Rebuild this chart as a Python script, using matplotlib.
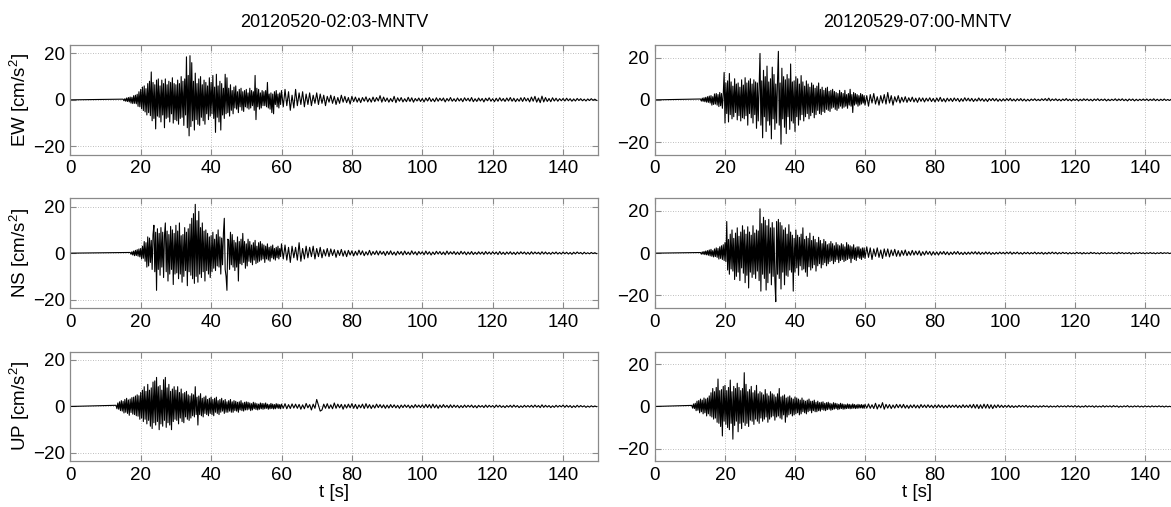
import numpy as np
import matplotlib
matplotlib.use("Agg")
import matplotlib.pyplot as plt

plt.rcParams['font.family'] = ['Liberation Sans', 'DejaVu Sans']
plt.rcParams['mathtext.fontset'] = 'custom'
plt.rcParams['mathtext.rm'] = 'Liberation Sans'
plt.rcParams['mathtext.it'] = 'Liberation Sans'

# ---------------- data ----------------
titles = ["20120520-02:03-MNTV", "20120529-07:00-MNTV"]
components = ["EW", "NS", "UP"]
xticks = [0, 20, 40, 60, 80, 100, 120, 140]
yticks = [-20, 0, 20]
ylims = [23.6, 26.0]          # symmetric y-range of left / right column
dt_active = 0.25               # s, sampling of strong-motion part (onset -> 60 s)
dt_coda = 0.5                  # s, sampling of coda (60 s -> 150 s)
coda_start = 60.0

# ---- 20120520 EW ----
onset_l_ew = 15.0
act_l_ew = [
    0.3,-0.4,0.5,-0.6, 0.8,-0.7,1.0,-0.9, 1.2,-1.4,1.1,-1.6, 1.8,-1.5,2.0,-1.7, 2.4,-2.8,3.5,-3.0,
    4.5,-3.8,5.5,-4.6, 6.0,-5.2,4.8,-6.5, 7.0,-5.5,8.0,-6.8, 12.0,-9.0,7.5,-8.0, 6.5,-12.5,8.5,-7.0,
    9.0,-7.5,6.0,-9.5, 8.5,-6.5,7.0,-12.0, 9.0,-8.0,6.5,-7.5, 8.0,-9.5,7.5,-6.0, 9.5,-10.0,7.0,-8.5,
    6.5,-9.0,8.5,-10.5, 7.0,-8.0,10.0,-7.5, 8.0,-11.0,9.0,-6.5, 18.5,-12.0,10.5,-15.5, 19.0,-11.5,16.0,-9.0,
    8.0,-13.0,11.5,-8.5, 7.0,-10.5,9.0,-11.0, 10.0,-7.5,6.5,-9.0, 8.5,-10.5,7.5,-6.0, 6.0,-8.5,9.5,-7.0,
    7.5,-6.0,10.5,-8.0, 5.5,-14.0,11.0,-7.5, 6.0,-9.5,8.0,-13.0, 7.0,-6.5,5.0,-8.0, 11.0,-6.0,9.5,-5.5,
    5.0,-7.0,6.5,-4.5, 4.0,-6.0,5.5,-3.5, 6.0,-4.0,3.5,-5.5, 4.5,-3.0,5.0,-4.5, 3.5,-5.0,4.0,-3.0,
    4.5,-3.5,3.0,-4.0, 5.0,-3.5,4.0,-2.5, 3.5,-4.5,10.5,-8.5, 5.0,-3.0,4.5,-4.0, 3.0,-3.5,4.0,-2.5,
    3.5,-2.5,4.0,-3.0, 7.5,-3.5,2.5,-4.0, 3.0,-5.5,2.5,-6.0, 3.5,-2.0,4.0,-3.0, 2.5,-3.5,3.0,-2.0,
]
coda_l_ew = [
    4.0,-3.0,4.5,-2.5,3.5,-4.5,2.0,-3.5,4.5,-2.5, 3.0,-2.0,3.5,-3.0,2.5,-2.0,3.0,-2.5,2.0,-1.5,
    3.0,-2.0,2.5,-1.5,2.0,-2.5,1.5,-1.0,2.0,-1.5, 1.5,-2.0,1.0,-1.5,2.0,-1.0,1.5,-1.2,1.0,-1.8,
    1.5,-0.8,1.2,-1.0,0.8,-1.2,1.0,-0.6,1.3,-0.9, 0.7,-1.0,1.2,-0.8,1.0,-0.5,1.8,-1.0,1.2,-0.7,
    0.8,-1.0,0.6,-0.8,1.5,-1.2,0.9,-0.6,1.0,-0.9, 0.5,-0.8,1.1,-0.7,0.9,-1.0,0.6,-0.5,0.8,-0.7,
    0.6,-0.9,0.8,-0.5,1.0,-0.7,0.5,-0.8,0.9,-0.6, 0.7,-0.4,0.8,-0.9,0.6,-0.5,1.0,-0.6,0.5,-0.7,
    0.8,-0.5,0.6,-0.8,0.9,-0.4,0.7,-0.6,1.0,-0.8, 0.5,-0.7,0.8,-0.5,0.6,-0.9,0.7,-0.4,0.9,-0.6,
    0.5,-0.8,0.7,-0.6,0.9,-0.5,0.6,-0.7,0.8,-0.5, 1.0,-0.6,0.7,-0.8,0.5,-0.6,0.9,-0.7,1.0,-0.5,
    0.7,-0.9,1.2,-0.6,1.5,-1.0,0.8,-1.2,1.6,-0.9, 1.0,-0.7,0.6,-0.8,0.9,-0.5,0.7,-0.6,0.5,-0.4,
    0.6,-0.5,0.7,-0.4,0.5,-0.6,0.4,-0.5,0.6,-0.3, 0.5,-0.4,0.3,-0.5,0.4,-0.3,0.5,-0.2,0.3,-0.2,
]

# ---- 20120520 NS ----
onset_l_ns = 17.0
act_l_ns = [
    0.3,-0.5,0.6,-0.8, 0.9,-1.1,1.2,-1.0, 1.5,-1.3,1.8,-1.6,
    2.0,-2.5,3.0,-2.2, 5.0,-3.5,4.5,-6.0, 7.0,-5.5,6.5,-4.0, 5.5,-7.0,8.0,12.0, -8.0,9.0,-16.0,10.5,
    -7.0,8.5,-9.5,11.0, -6.0,9.0,-10.5,7.5, 13.0,-8.0,9.5,-12.0, 8.0,-9.0,11.5,-7.0, 10.0,-13.5,8.5,-9.0,
    12.0,-8.5,9.5,-11.0, 13.0,-9.0,7.5,-12.5, 8.0,-10.0,11.0,-7.5, 9.0,-14.0,10.5,-8.0, 12.5,-9.5,15.0,-11.0,
    17.0,-13.0,21.0,-10.0, 14.0,-12.5,18.0,-9.0, 11.0,-10.5,13.0,-8.0, 9.5,-12.0,10.0,-7.5, 8.5,-9.0,7.0,-10.5,
    7.5,-8.0,9.0,-6.5, 6.0,-7.5,8.0,-5.5, 10.0,-6.0,7.0,-9.0, 6.5,-5.0,8.5,15.0, -7.0,-10.0,-16.0,6.0,
    5.5,-7.0,9.0,-5.0, 8.0,-6.0,5.5,-7.5, 4.5,-6.0,7.0,-12.0, 5.0,-4.5,6.0,-5.0, 8.5,-4.0,5.0,-6.5,
    4.0,-5.5,6.0,-3.5, 5.0,-4.0,3.5,-5.0, 4.5,-3.0,5.5,-4.5, 3.0,-4.0,4.5,-3.5, 5.0,-3.0,4.0,-2.5,
    3.5,-4.0,3.0,-2.5, 4.0,-3.0,2.5,-3.5, 3.0,-2.0,3.5,-2.5, 2.0,-3.0,2.5,-2.0, 3.0,-2.5,2.0,-1.5,
]
coda_l_ns = [
    4.0,-2.5,3.5,-3.0,2.5,-4.0,3.0,-2.0,2.5,-3.0, 4.5,-3.5,2.0,-2.5,3.0,-2.0,2.5,-1.5,3.0,-2.5,
    2.0,-1.5,2.5,-2.0,1.5,-1.2,2.0,-1.5,1.8,-1.0, 1.5,-1.8,1.2,-1.0,1.6,-1.3,1.0,-1.5,1.2,-0.8,
    1.0,-1.2,0.8,-0.9,1.3,-0.7,1.0,-1.1,0.6,-0.8, 1.2,-0.9,0.7,-0.6,1.0,-0.8,0.9,-0.5,0.7,-1.0,
    0.8,-0.6,1.0,-0.7,0.5,-0.9,0.8,-0.5,0.7,-0.8, 0.9,-0.6,0.5,-0.7,1.0,-0.5,0.6,-0.8,0.7,-0.4,
    0.6,-0.7,0.9,-0.5,0.6,-0.8,0.5,-0.6,0.8,-0.4, 0.7,-0.6,0.5,-0.7,0.9,-0.5,0.6,-0.4,0.7,-0.6,
    0.5,-0.6,0.8,-0.4,0.6,-0.7,0.5,-0.5,0.7,-0.6, 0.4,-0.5,0.6,-0.4,0.5,-0.6,0.7,-0.4,0.5,-0.5,
    0.6,-0.4,0.5,-0.6,0.7,-0.5,0.4,-0.6,0.5,-0.4, 0.6,-0.5,0.4,-0.6,0.5,-0.4,0.6,-0.3,0.5,-0.5,
    0.4,-0.5,0.6,-0.4,0.5,-0.3,0.4,-0.5,0.6,-0.4, 0.5,-0.4,0.3,-0.5,0.4,-0.3,0.5,-0.4,0.3,-0.4,
    0.5,-0.3,0.4,-0.4,0.3,-0.5,0.4,-0.3,0.5,-0.2, 0.3,-0.4,0.4,-0.3,0.2,-0.3,0.3,-0.2,0.2,-0.2,
]

# ---- 20120520 UP ----
onset_l_up = 13.0
act_l_up = [
    0.5,-1.0,1.5,-1.2, 2.0,-1.8,2.5,-2.0,
    2.2,-2.8,3.0,-2.5, 3.5,-3.0,2.8,-3.8, 3.2,-2.6,3.8,-3.3, 4.0,-3.5,4.5,-4.0, 5.0,-4.2,4.6,-5.5,
    6.0,-5.0,7.0,-6.5, 8.5,-5.5,6.5,-7.5, 9.5,-6.0,7.0,-8.5, 8.0,-9.5,10.5,-7.0, 11.0,-8.0,12.5,-6.5,
    8.5,-10.0,9.0,-7.5, 7.0,-8.5,11.5,-6.0, 12.5,-9.0,8.0,-7.0, 9.5,-8.0,6.5,-10.0, 7.5,-6.5,8.5,-5.5,
    7.0,-6.0,8.5,-7.5, 6.0,-5.0,7.5,-6.5, 5.5,-7.0,6.0,-4.5, 6.5,-5.5,5.0,-6.0, 4.5,-5.0,5.5,-4.0,
    5.0,-4.5,8.5,-3.5, 4.0,-8.0,4.5,-3.5, 5.5,-4.0,3.5,-4.5, 4.0,-3.0,4.5,-3.5, 3.0,-4.0,3.5,-3.0,
    4.0,-3.5,3.0,-4.0, 3.5,-2.5,4.0,-3.0, 2.5,-3.5,3.0,-2.5, 3.5,-2.0,2.5,-3.0, 3.0,-2.5,2.0,-2.5,
    2.5,-2.0,3.0,-2.5, 2.0,-2.5,2.5,-1.8, 2.2,-2.0,1.8,-2.5, 2.0,-1.5,2.5,-1.8, 1.5,-2.0,1.8,-1.5,
    2.0,-1.5,1.8,-1.2, 1.5,-1.8,1.2,-1.5, 1.8,-1.0,1.5,-1.3, 1.2,-1.5,1.0,-1.2, 1.5,-1.0,1.3,-1.2,
    1.2,-1.0,1.5,-0.8, 1.0,-1.2,0.8,-1.0, 1.3,-0.9,1.0,-1.1, 0.8,-1.0,1.2,-0.7, 1.0,-0.9,0.8,-1.0,
]
coda_l_up = [
    1.0,-0.8,1.2,-1.0,0.8,-0.9,1.1,-0.7,1.0,-0.8, 0.9,-1.2,0.7,-1.0,1.3,-0.6,0.8,-1.5,1.0,-0.8,
    3.0,0.5,-2.0,-1.5,1.0,-0.8,1.2,-0.9,0.7,-1.0, 1.5,-0.8,1.0,-0.6,0.9,-1.2,0.8,-0.7,1.0,-0.6,
    1.2,-0.8,0.9,-1.0,0.7,-0.6,1.0,-0.9,1.2,-0.7, 0.8,-0.9,0.6,-0.7,1.0,-0.5,0.8,-0.6,0.7,-0.8,
    0.6,-0.7,0.8,-0.5,0.7,-0.6,0.5,-0.8,0.6,-0.5, 0.7,-0.4,0.6,-0.7,0.5,-0.6,0.8,-0.4,0.6,-0.5,
    0.7,-0.6,0.9,-0.5,0.8,-0.7,1.0,-0.6,0.7,-0.8, 0.6,-0.5,0.8,-0.4,0.5,-0.6,0.7,-0.5,0.6,-0.4,
    0.5,-0.6,0.4,-0.5,0.6,-0.4,0.5,-0.3,0.6,-0.5, 0.4,-0.6,0.5,-0.3,0.4,-0.5,0.6,-0.4,0.5,-0.3,
    0.4,-0.5,0.6,-0.3,0.5,-0.4,0.3,-0.5,0.4,-0.3, 0.5,-0.4,0.6,-0.3,0.4,-0.5,0.3,-0.4,0.5,-0.3,
    0.4,-0.3,0.5,-0.4,0.6,-0.3,0.4,-0.5,0.7,-0.4, 0.5,-0.3,0.4,-0.5,0.3,-0.4,0.5,-0.3,0.4,-0.2,
    0.6,-0.4,0.5,-0.3,0.4,-0.5,0.3,-0.4,0.5,-0.3, 0.4,-0.2,0.3,-0.4,0.2,-0.3,0.3,-0.2,0.2,-0.1,
]

# ---- 20120529 EW ----
onset_r_ew = 13.0
act_r_ew = [
    0.4,-0.6,0.8,-0.7, 1.0,-0.9,1.2,-1.1,
    1.5,-1.2,1.8,-1.5, 2.0,-2.5,1.5,-2.2, 2.8,-2.0,3.0,-2.5, 2.5,-3.2,3.5,-2.8, 3.0,-4.0,2.5,13.0,
    -11.0,8.0,-6.5,9.0, -10.5,12.5,-7.0,8.5, -9.0,6.5,-8.0,10.0, -6.0,7.5,-9.5,8.0, -7.5,6.0,-10.0,9.5,
    -8.5,7.0,-9.0,10.5, -7.5,8.0,-12.0,9.0, -6.5,10.0,-8.5,7.5, -11.0,9.5,-7.0,8.5, -13.5,8.0,-10.0,7.0,
    22.0,-12.0,9.0,-18.0, 14.0,-8.0,11.0,-15.0, 16.0,-10.0,8.5,-12.0, 10.0,-18.5,15.5,-9.0, 12.0,-14.0,7.5,-11.0,
    9.0,23.0,-12.0,8.0, -21.0,15.0,-9.0,11.0, -13.0,9.5,-16.0,12.0, -8.0,10.0,-14.0,17.0, -10.0,8.5,-11.0,9.0,
    -15.0,11.0,-8.0,10.0, -12.0,7.5,-9.5,11.5, -7.0,8.5,-10.0,6.5, -8.0,9.0,-6.5,7.5, -9.0,6.0,-7.5,8.0,
    -6.0,7.0,-8.5,5.5, -7.0,6.5,-5.0,8.0, -6.5,5.0,-7.0,6.0, -5.5,4.5,-6.0,5.5, -4.5,6.0,-5.0,4.0,
    -5.5,4.5,-4.0,5.0, -3.5,4.0,-4.5,3.5, -5.0,3.0,-4.0,4.5, -3.0,3.5,-4.0,3.0, -3.5,4.5,-3.0,2.5,
    -4.0,3.0,-2.5,5.0, -3.0,2.5,-6.0,3.5, -2.5,3.0,-2.0,2.5, -3.0,2.0,-2.5,3.0, -2.0,2.5,-1.5,2.0,
]
coda_r_ew = [
    -2.5,2.0,-3.0,2.5,-1.5,3.0,-2.0,1.5,-2.5,2.0, -1.5,2.5,-2.0,3.5,-1.5,2.0,-2.5,1.5,-1.0,2.0,
    -1.5,1.2,-1.0,1.5,-1.2,1.0,-0.8,1.3,-1.0,0.8, -1.2,1.0,-0.7,0.9,-1.0,0.8,-0.6,1.0,-0.8,0.7,
    -1.0,0.9,-0.7,1.2,-0.8,0.6,-1.0,0.8,-0.6,0.7, -0.8,0.9,-0.5,0.7,-0.9,0.6,-0.7,1.0,-0.5,0.8,
    -0.6,0.7,-0.8,0.5,-0.6,0.9,-0.5,0.6,-0.7,0.5, -0.8,0.6,-0.4,0.7,-0.5,0.6,-0.7,0.4,-0.6,0.5,
    -0.5,0.6,-0.4,0.7,-0.5,0.4,-0.6,0.5,-0.4,0.6, -0.5,0.4,-0.6,0.3,-0.5,0.4,-0.3,0.5,-0.4,0.3,
    -0.4,0.5,-0.3,0.6,-0.4,0.8,-0.5,0.4,-0.3,0.5, -0.4,0.3,-0.5,0.4,-0.3,0.6,-0.4,0.3,-0.5,0.4,
    -0.3,0.4,-0.5,0.3,-0.4,0.5,-0.3,0.4,-0.4,0.3, -0.5,0.4,-0.3,0.5,-0.4,0.3,-0.3,0.4,-0.5,0.3,
    -0.4,0.3,-0.3,0.5,-0.4,0.4,-0.3,0.5,-0.4,0.3, -0.5,0.4,-0.3,0.4,-0.5,0.3,-0.4,0.3,-0.3,0.4,
    -0.3,0.4,-0.4,0.3,-0.3,0.5,-0.4,0.3,-0.4,0.3, -0.3,0.4,-0.3,0.2,-0.3,0.3,-0.2,0.3,-0.2,0.2,
]

# ---- 20120529 NS ----
onset_r_ns = 13.0
act_r_ns = [
    0.3,-0.5,0.6,-0.5, 0.8,-0.7,1.0,-0.8,
    1.2,-1.0,1.5,-1.3, 1.8,-1.5,1.2,-1.8, 2.0,-1.6,2.5,-2.0, 2.2,-2.8,3.0,-2.5, 3.5,-3.0,4.0,-3.5,
    5.0,-4.0,15.0,-8.0, 6.5,-10.0,9.0,-7.5, 11.0,-8.5,7.0,-12.5, 9.5,-11.0,12.0,-9.0, 8.0,-13.0,10.0,-7.0,
    13.0,-9.5,11.0,-14.0, 9.0,-10.5,12.5,-16.5, 10.0,-9.0,8.5,-11.5, 13.0,-10.0,9.5,-12.0, 11.0,-8.5,10.5,-13.0,
    21.0,-18.0,14.0,-10.0, 17.0,-12.0,15.5,-17.5, 13.0,-14.0,16.0,-9.5, 12.0,-15.0,14.5,-11.0, 12.0,-13.0,-23.0,15.0,
    -10.0,16.0,-12.0,14.5, -17.0,13.0,-9.0,11.0, -15.0,12.0,-10.5,9.0, -11.0,13.5,-8.0,10.0, -9.0,8.5,-18.0,7.0,
    -9.0,11.0,-7.0,8.5, -10.5,7.5,-6.0,9.0, -8.0,12.0,-7.5,6.5, -9.0,8.0,-11.0,7.0, -6.5,9.5,-8.0,6.0,
    -7.0,8.0,-5.5,6.5, -8.5,5.0,-6.0,7.5, -5.0,6.0,-7.0,4.5, -5.5,6.5,-4.5,5.5, -6.0,4.0,-5.0,4.5,
    -4.0,5.5,-3.5,4.5, -5.0,3.5,-4.0,5.0, -3.0,4.0,-4.5,3.5, -3.5,4.5,-3.0,4.0, -4.0,3.0,-3.5,5.0,
    -3.0,4.0,-2.5,3.5, -4.5,3.0,-2.5,4.0, -3.0,2.5,-3.5,3.0, -2.0,3.0,-2.5,2.0, -3.0,2.5,-2.0,2.5,
]
coda_r_ns = [
    -2.5,3.0,-2.0,2.5,-3.0,2.0,-1.5,2.5,-2.0,1.5, -2.5,2.0,-1.5,2.0,-1.8,1.5,-1.2,1.8,-1.5,1.2,
    -1.5,1.2,-1.0,1.5,-1.2,0.8,-1.0,1.3,-0.9,1.0, -0.8,1.1,-1.2,0.7,-0.9,1.0,-0.6,0.8,-1.0,0.7,
    -0.8,0.6,-0.9,0.7,-0.5,0.8,-0.7,0.6,-0.8,0.5, -0.6,0.7,-0.5,0.8,-0.6,0.4,-0.7,0.5,-0.6,0.5,
    -0.5,0.6,-0.4,0.7,-0.5,0.6,-0.6,0.4,-0.5,0.6, -0.4,0.5,-0.6,0.3,-0.5,0.4,-0.4,0.5,-0.3,0.4,
    -0.4,0.5,-0.3,0.6,-0.5,0.4,-0.3,0.5,-0.4,0.3, -0.5,0.4,-0.3,0.4,-0.4,0.3,-0.3,0.5,-0.4,0.3,
    -0.3,0.4,-0.5,0.3,-0.4,0.4,-0.3,0.5,-0.3,0.4, -0.4,0.3,-0.3,0.4,-0.2,0.3,-0.4,0.3,-0.3,0.2,
    -0.3,0.4,-0.2,0.3,-0.4,0.3,-0.3,0.2,-0.3,0.4, -0.2,0.3,-0.3,0.2,-0.4,0.3,-0.2,0.3,-0.3,0.2,
    -0.2,0.3,-0.3,0.2,-0.3,0.4,-0.2,0.3,-0.3,0.2, -0.2,0.3,-0.4,0.2,-0.3,0.2,-0.2,0.3,-0.2,0.2,
    -0.3,0.2,-0.2,0.3,-0.2,0.2,-0.3,0.2,-0.2,0.3, -0.2,0.2,-0.1,0.2,-0.2,0.1,-0.2,0.2,-0.1,0.1,
]

# ---- 20120529 UP ----
onset_r_up = 10.5
act_r_up = [
    0.5,-0.8,1.2,-1.0, 1.5,-2.0,2.5,-1.8, 2.8,-3.0,3.5,-2.5, 3.0,-3.5,4.0,-3.0, 3.5,-4.5,
    4.0,-3.5,5.0,-4.5, 6.5,-5.0,8.5,-6.0, 7.0,-5.5,9.0,-7.5, 13.0,-8.0,7.5,-9.5, 8.0,-14.0,9.5,-7.0,
    10.0,-8.5,7.5,-10.0, 9.0,-11.0,12.5,-8.0, 7.0,-15.5,9.5,-9.0, 8.5,-7.0,11.0,-12.0, 9.0,-8.0,7.5,-10.5,
    8.5,-7.5,16.0,-9.0, 10.5,-8.0,7.0,-9.5, 8.0,-6.5,9.5,-7.0, 6.5,-8.5,7.5,-6.0, 10.0,-7.0,6.0,-8.0,
    7.0,-5.5,6.5,-7.0, 5.5,-6.0,8.0,-5.0, 6.0,-7.5,5.0,-6.0, 7.0,-5.0,6.0,-4.5, 5.5,-6.5,4.5,-5.0,
    6.0,-4.5,8.5,-5.5, 4.5,-6.0,5.0,-4.0, 5.5,-7.5,4.0,-5.0, 4.5,-4.0,5.0,-3.5, 4.0,-4.5,3.5,-4.0,
    4.5,-3.5,4.0,-3.0, 3.5,-4.0,3.0,-3.5, 4.0,-2.5,3.0,-3.0, 2.5,-3.5,3.0,-2.5, 3.5,-2.0,2.5,-3.0,
    2.5,-2.0,3.0,-2.5, 2.0,-2.5,2.5,-2.0, 1.8,-2.2,2.0,-1.5, 2.2,-1.8,1.5,-2.0, 1.8,-1.5,2.0,-1.3,
    1.5,-1.8,1.2,-1.5, 1.8,-1.2,1.5,-1.0, 1.3,-1.5,1.0,-1.2, 1.5,-1.0,1.2,-1.3, 1.0,-1.2,0.8,-1.0,
    1.2,-0.9,1.0,-1.1, 0.8,-1.0,1.2,-0.8, 0.9,-1.0,0.7,-0.9, 1.0,-0.8,0.8,-0.7, 0.9,-0.8,0.7,-0.9,
]
coda_r_up = [
    1.0,-0.8,1.2,-0.9,0.8,-1.0,1.5,-1.2,0.9,-0.7, 1.8,-1.3,1.0,-0.8,0.9,-1.0,0.7,-0.8,1.0,-0.6,
    0.9,-0.7,1.0,-0.8,0.6,-0.9,0.7,-0.6,0.8,-0.7, 0.6,-0.8,0.9,-0.5,0.7,-0.6,0.8,-0.5,0.6,-0.7,
    0.7,-0.6,0.8,-0.5,0.6,-0.7,0.5,-0.6,0.7,-0.5, 0.6,-0.4,0.7,-0.6,0.5,-0.6,0.8,-0.5,0.6,-0.5,
    0.8,-0.7,1.0,-0.8,0.9,-1.0,0.8,-0.9,1.1,-0.8, 1.0,-0.9,0.8,-1.0,0.7,-0.6,0.8,-0.5,0.6,-0.5,
    0.5,-0.4,0.6,-0.5,0.4,-0.5,0.3,-0.4,0.5,-0.3, 0.4,-0.3,0.5,-0.4,0.3,-0.4,0.4,-0.3,0.3,-0.4,
    0.3,-0.3,0.4,-0.2,0.3,-0.4,0.3,-0.3,0.2,-0.3, 0.4,-0.3,0.3,-0.2,0.3,-0.3,0.4,-0.2,0.3,-0.3,
    0.4,-0.3,0.3,-0.4,0.2,-0.3,0.4,-0.3,0.3,-0.2, 0.3,-0.4,0.3,-0.3,0.2,-0.3,0.4,-0.3,0.3,-0.2,
    0.3,-0.3,0.4,-0.2,0.3,-0.4,0.2,-0.3,0.3,-0.2, 0.4,-0.3,0.2,-0.3,0.3,-0.2,0.3,-0.3,0.2,-0.3,
    0.3,-0.2,0.2,-0.3,0.3,-0.2,0.2,-0.2,0.3,-0.2, 0.2,-0.3,0.2,-0.2,0.1,-0.2,0.2,-0.1,0.2,-0.1,
]

traces = [
    [(onset_l_ew, act_l_ew, coda_l_ew), (onset_r_ew, act_r_ew, coda_r_ew)],
    [(onset_l_ns, act_l_ns, coda_l_ns), (onset_r_ns, act_r_ns, coda_r_ns)],
    [(onset_l_up, act_l_up, coda_l_up), (onset_r_up, act_r_up, coda_r_up)],
]

# ---------------- figure ----------------
W, H = 1171, 507
fig = plt.figure(figsize=(W / 100, H / 100), dpi=100)

col_x = [70.3, 655.0]
col_w = [528.0, 525.0]
row_top = [45.0, 198.3, 351.6]
ax_h = 109.7

spine_col = '#8a8a8a'
for r in range(3):
    for c in range(2):
        left = col_x[c] / W
        bottom = (H - row_top[r] - ax_h) / H
        ax = fig.add_axes([left, bottom, col_w[c] / W, ax_h / H])
        onset, act, coda = traces[r][c]
        act = np.asarray(act, dtype=float)
        coda = np.asarray(coda, dtype=float)
        t = np.concatenate([[0.0], onset + dt_active * np.arange(len(act)),
                            coda_start + dt_coda * np.arange(len(coda))])
        v = np.concatenate([[0.0], act, coda])
        ax.plot(t, v, color='black', lw=0.8, antialiased=True)
        ax.set_xlim(0, 150)
        ax.set_ylim(-ylims[c], ylims[c])
        ax.set_xticks(xticks)
        ax.set_yticks(yticks)
        ax.grid(True, linestyle=(0, (1, 2)), color='#a8a8a8', linewidth=0.6)
        for s in ax.spines.values():
            s.set_color(spine_col)
            s.set_linewidth(0.9)
        ax.tick_params(direction='in', length=4, width=0.8, color=spine_col,
                       top=True, right=True, labelsize=13.5, pad=4,
                       labelcolor='black')
        if c == 0:
            ax.set_ylabel(components[r] + r' [cm/s$^2$]', fontsize=13.5)
            ax.yaxis.set_label_coords(-0.072, 0.5)
        if r == 0:
            ax.set_title(titles[c], fontsize=13, pad=13)
        if r == 2:
            ax.set_xlabel('t [s]', fontsize=13.5, labelpad=0)

fig.savefig('out.png', dpi=100)
